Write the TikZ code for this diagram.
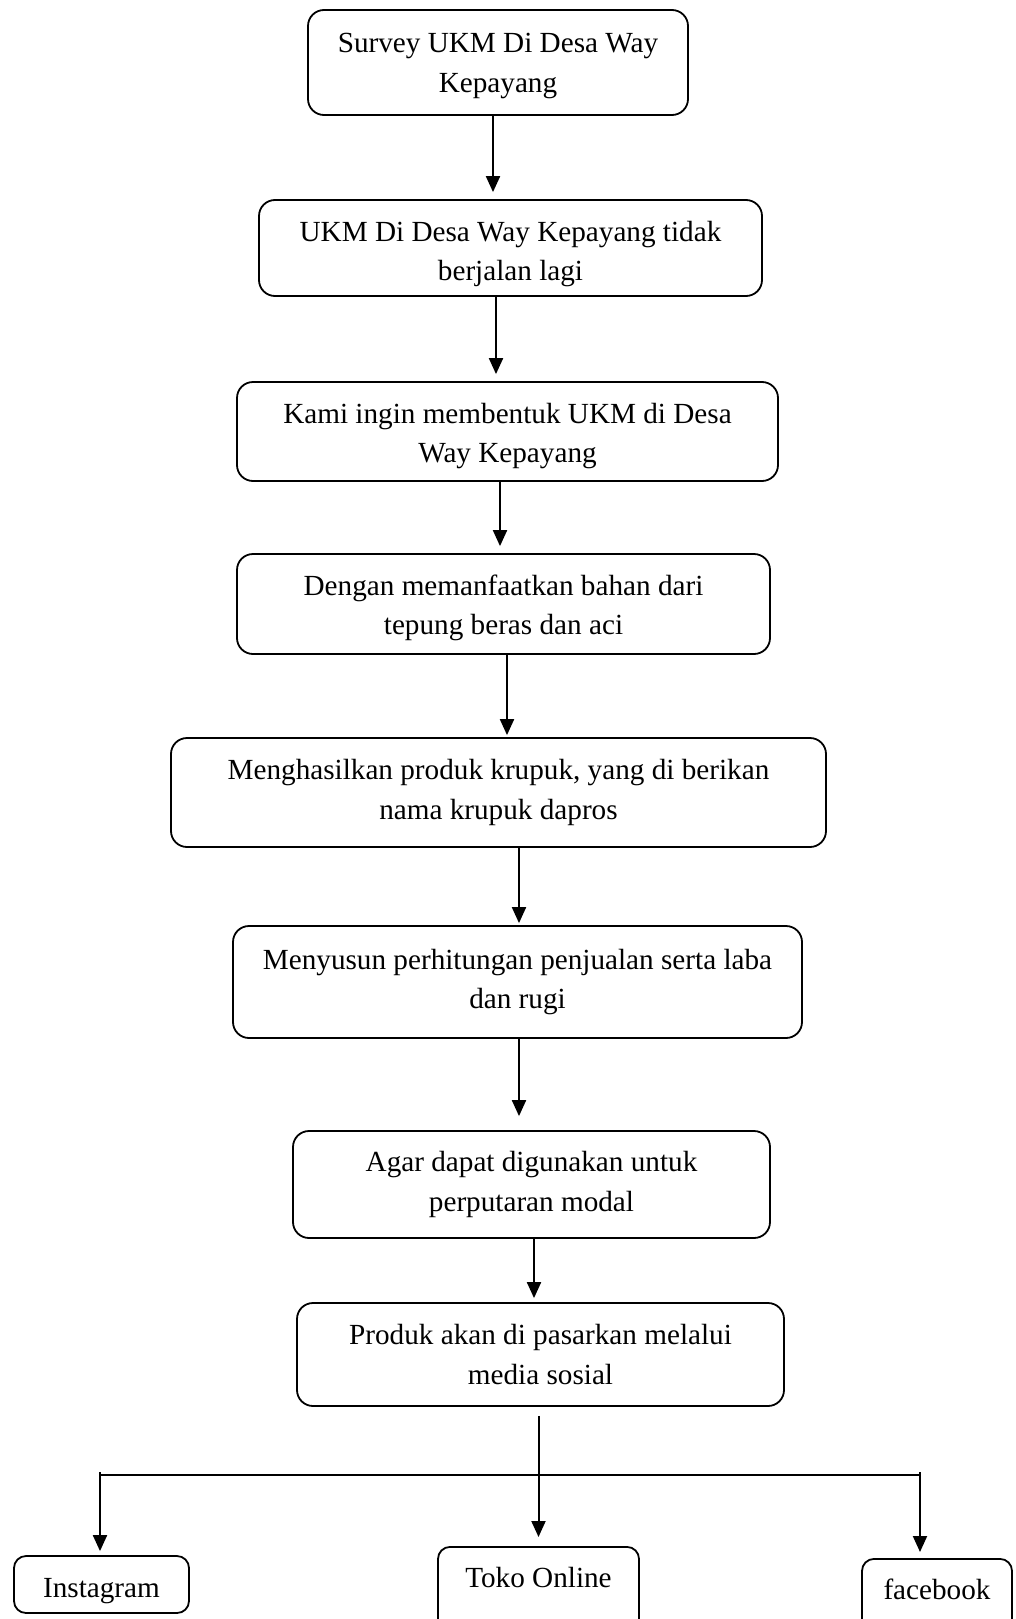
\documentclass[tikz,border=0pt]{standalone}
\usepackage{fontspec}
\setmainfont{Liberation Serif}
\usetikzlibrary{arrows.meta}

\begin{document}
\begin{tikzpicture}[
  x=1pt, y=-1pt,
  font=\fontsize{29.2}{39.2}\selectfont,
  box/.style ={draw, rounded corners=16pt, align=center, line width=1.8pt, inner sep=0pt},
  leaf/.style={box, rounded corners=12pt},
  arr/.style ={-{Triangle[length=16pt,width=14pt]}, line width=2pt},
  wire/.style={line width=2pt},
]
\useasboundingbox (0,0) rectangle (1015,1619);

% main chain
\node[box, minimum width=380pt, minimum height=105pt, text height=65.5pt] (survey) at (498,62.5)    {Survey UKM Di Desa Way\\Kepayang};
\node[box, minimum width=503pt, minimum height=96pt,  text height=72pt]   (ukm)    at (510.5,248)   {UKM Di Desa Way Kepayang tidak\\berjalan lagi};
\node[box, minimum width=541pt, minimum height=99pt,  text height=69pt]   (bentuk) at (507.5,431.5) {Kami ingin membentuk UKM di Desa\\Way Kepayang};
\node[box, minimum width=533pt, minimum height=100pt, text height=67pt]   (bahan)  at (503.5,604)   {Dengan memanfaatkan bahan dari\\tepung beras dan aci};
\node[box, minimum width=655pt, minimum height=109pt] (krupuk) at (498.5,792.5) {Menghasilkan produk krupuk, yang di berikan\\nama krupuk dapros};
\node[box, minimum width=569pt, minimum height=112pt] (hitung) at (517.5,982)   {Menyusun perhitungan penjualan serta laba\\dan rugi};
\node[box, minimum width=477pt, minimum height=107pt] (modal)  at (531.5,1184.5){Agar dapat digunakan untuk\\perputaran modal};
\node[box, minimum width=487pt, minimum height=103pt] (media)  at (540.5,1354.5){Produk akan di pasarkan melalui\\media sosial};

\draw[arr, shorten >=7pt] ([xshift=-5pt]survey.south)   -- ([xshift=-5pt]survey.south |- ukm.north);
\draw[arr, shorten >=7pt] ([xshift=-14.5pt]ukm.south)   -- ([xshift=-14.5pt]ukm.south |- bentuk.north);
\draw[arr, shorten >=7pt] ([xshift=-7.5pt]bentuk.south) -- ([xshift=-7.5pt]bentuk.south |- bahan.north);
\draw[arr, shorten >=2pt] ([xshift=3.5pt]bahan.south)   -- ([xshift=3.5pt]bahan.south |- krupuk.north);
\draw[arr, shorten >=2pt] ([xshift=20.5pt]krupuk.south) -- ([xshift=20.5pt]krupuk.south |- hitung.north);
\draw[arr, shorten >=14pt] ([xshift=1.5pt]hitung.south) -- ([xshift=1.5pt]hitung.south |- modal.north);
\draw[arr, shorten >=4pt] ([xshift=2.5pt]modal.south)   -- ([xshift=2.5pt]modal.south |- media.north);

% social media
\node[leaf, minimum width=175pt, minimum height=57pt, text height=32pt] (insta) at (101.5,1584.5) {Instagram};
\node[leaf, minimum width=201pt, text height=21pt, text depth=60pt, inner ysep=20pt, anchor=north] (toko) at (538.5,1546) {Toko Online};
\node[leaf, minimum width=150pt, text height=21pt, text depth=60pt, inner ysep=20pt, anchor=north] (fb) at (937,1558) {facebook};

\coordinate (left)  at (100,1475);
\coordinate (right) at (920,1475);
\draw[wire] (left) -- (right);
\draw[arr, shorten <=9pt, shorten >=9pt] (toko.north |- media.south) -- (toko.north);
\draw[arr, shorten >=4pt] ([yshift=3pt]left)  -- (left |- insta.north);
\draw[arr, shorten >=6pt] ([yshift=3pt]right) -- (right |- fb.north);
\end{tikzpicture}
\end{document}
